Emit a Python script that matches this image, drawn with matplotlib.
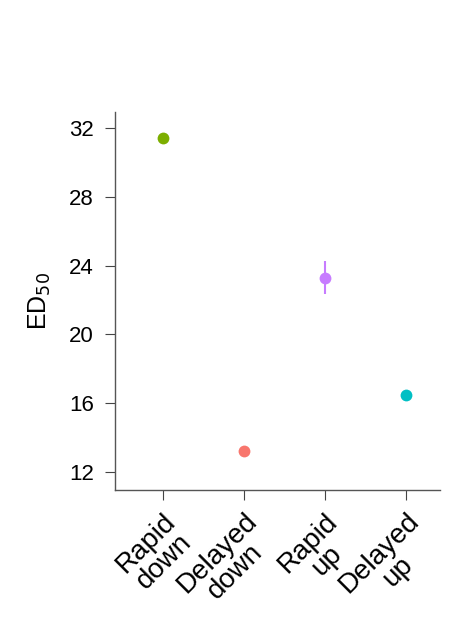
import numpy as np
import matplotlib.pyplot as plt

plt.rcParams['font.family'] = ['Liberation Sans', 'DejaVu Sans']

conditions = ['Rapid\ndown', 'Delayed\ndown', 'Rapid\nup', 'Delayed\nup']
ed50 = [31.42, 13.22, 23.3, 16.47]
ed50_lo = [31.42, 13.22, 22.35, 16.47]
ed50_hi = [31.42, 13.22, 24.25, 16.47]
colors = ['#7CAE00', '#F8766D', '#C77CFF', '#00BFC4']
y_ticks = [12, 16, 20, 24, 28, 32]

fig = plt.figure(figsize=(4.69, 6.23), dpi=100)
ax1 = fig.add_axes([0.245, 0.2135, 0.693, 0.6065])

x = np.arange(len(conditions))
for i in x:
    ax1.vlines(i, ed50_lo[i], ed50_hi[i], color=colors[i], linewidth=1.5)
    ax1.plot(i, ed50[i], 'o', color=colors[i], markersize=8.5, markeredgewidth=0)

ax1.set_xlim(-0.59, 3.42)
ax1.set_ylim(10.95, 32.93)
ax1.set_yticks(y_ticks)
ax1.set_xticks(x)
ax1.set_xticklabels(conditions, rotation=45, ha='right', va='top',
                    rotation_mode='anchor', multialignment='center',
                    fontsize=20, linespacing=1.0)
ax1.tick_params(axis='y', labelsize=16, colors='#444444', labelcolor='black',
                length=7, pad=8)
ax1.tick_params(axis='x', colors='#444444', labelcolor='black', length=7, pad=6)
for side in ['top', 'right']:
    ax1.spines[side].set_visible(False)
for side in ['left', 'bottom']:
    ax1.spines[side].set_color('#555555')
    ax1.spines[side].set_linewidth(1.0)
ax1.set_ylabel('ED$_{50}$', fontsize=18, labelpad=12)

plt.savefig('out.png', dpi=100)
